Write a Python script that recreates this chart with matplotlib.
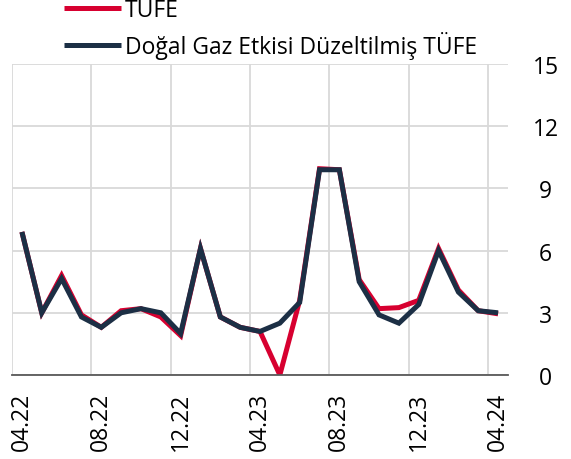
import matplotlib
matplotlib.use("Agg")
import matplotlib.pyplot as plt
from matplotlib.ticker import FixedLocator

months = ["04.22","05.22","06.22","07.22","08.22","09.22","10.22","11.22","12.22",
          "01.23","02.23","03.23","04.23","05.23","06.23","07.23","08.23","09.23",
          "10.23","11.23","12.23","01.24","02.24","03.24","04.24"]
tufe = [6.9, 3.0, 4.8, 2.9, 2.3, 3.1, 3.2, 2.8, 1.9,
        6.1, 2.8, 2.3, 2.1, 0.0, 3.6, 9.95, 9.9, 4.6,
        3.2, 3.25, 3.6, 6.1, 4.1, 3.1, 2.95]
adj = [6.9, 3.0, 4.65, 2.8, 2.3, 3.0, 3.2, 3.0, 2.0,
       6.1, 2.8, 2.3, 2.1, 2.5, 3.5, 9.9, 9.9, 4.5,
       2.9, 2.5, 3.4, 6.0, 4.0, 3.1, 3.0]
label_tufe = "TUFE"
label_adj = "Doğal Gaz Etkisi Düzeltilmiş TÜFE"
yticks = [0, 3, 6, 9, 12, 15]

plt.rcParams['font.family'] = ['Open Sans', 'DejaVu Sans']
fs = 16.5

fig = plt.figure(figsize=(5.71, 4.60), dpi=100)
ax = fig.add_axes([12/571, 1-376/460, (508-12)/571, (376-65)/460])

x = list(range(len(months)))
l1, = ax.plot(x, tufe, color="#D70030", lw=3.6, solid_capstyle="butt", solid_joinstyle="miter", label=label_tufe, zorder=3)
l2, = ax.plot(x, adj, color="#1C2F45", lw=3.6, solid_capstyle="butt", solid_joinstyle="miter", label=label_adj, zorder=4)

ax.set_xlim(-0.5, len(months)-0.5)
ax.set_ylim(0, 15)
ax.set_yticks(yticks)
ax.yaxis.tick_right()
ax.tick_params(axis='y', length=0, pad=27, labelsize=fs, colors="#000000")
for t in ax.get_yticklabels():
    t.set_horizontalalignment('center')

major = list(range(0, len(months), 4))
ax.set_xticks(major)
ax.set_xticklabels([months[i] for i in major], rotation=90, fontsize=fs)
ax.tick_params(axis='x', which='major', length=0, pad=12)
ax.xaxis.set_minor_locator(FixedLocator([i - 0.5 for i in major]))
ax.tick_params(axis='x', which='minor', length=0)
ax.grid(True, axis='x', which='minor', color="#D9D9D9", lw=1.3)
ax.grid(True, axis='y', which='major', color="#D9D9D9", lw=1.3)
ax.grid(False, axis='x', which='major')

for s in ['top', 'left', 'right']:
    ax.spines[s].set_visible(False)
ax.spines['bottom'].set_color("#595959")
ax.spines['bottom'].set_linewidth(1.3)
ax.spines['bottom'].set_zorder(5)

fig.legend(handles=[l1, l2], loc='upper left', bbox_to_anchor=(55/571, 1+10/460),
           frameon=False, fontsize=fs, handlelength=2.5, handletextpad=0.15,
           labelspacing=0.4, borderaxespad=0)

fig.savefig("out.png", dpi=100)
